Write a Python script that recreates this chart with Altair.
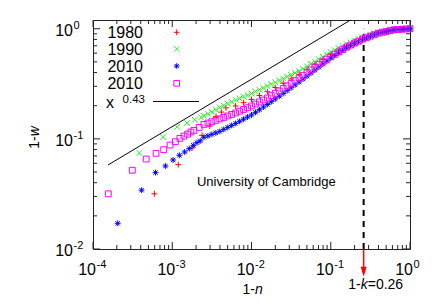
import altair as alt
import pandas as pd

W, H = 317, 229
FONT = "Liberation Sans"

# ---------------- data ----------------
# 1980 (red +)
red_x = [0.000595, 0.00119, 0.001785, 0.00238, 0.002975, 0.00357, 0.004165, 0.00476,
         0.00631, 0.00794, 0.01, 0.01259, 0.01585, 0.01995, 0.02512, 0.03162, 0.03981,
         0.05012, 0.0631, 0.07943, 0.1, 0.1259, 0.1585, 0.1995, 0.2512, 0.3162, 0.3981,
         0.5012, 0.631, 0.7943, 1.0]
red_y = [0.0317, 0.0584, 0.0829, 0.1076, 0.1306, 0.160, 0.175, 0.1913,
         0.199, 0.213, 0.228, 0.248, 0.268, 0.293, 0.320, 0.350, 0.385,
         0.427, 0.476, 0.528, 0.585, 0.641, 0.702, 0.759, 0.821, 0.869, 0.920,
         0.950, 0.981, 0.99, 1.0]

# dense part of the three other curves (shared x positions)
dense_x = [0.002512, 0.002818, 0.003162, 0.003548, 0.003981, 0.004467, 0.005012, 0.005623,
           0.00631, 0.007079, 0.007943, 0.008913, 0.01, 0.01122, 0.01259, 0.01413, 0.01585,
           0.01778, 0.01995, 0.02239, 0.02512, 0.02818, 0.03162, 0.03548, 0.03981, 0.04467,
           0.05012, 0.05623, 0.0631, 0.07079, 0.07943, 0.08913, 0.1, 0.1122, 0.1259, 0.1413,
           0.1585, 0.1778, 0.1995, 0.2239, 0.2512, 0.2818, 0.3162, 0.3548, 0.3981, 0.4467,
           0.5012, 0.5623, 0.631, 0.7079, 0.7943, 0.8913, 1.0]

# 1990 (green x)
green_low_x = [0.000385, 0.00077, 0.001155, 0.00154, 0.001925, 0.00231]
green_low_y = [0.0744, 0.1038, 0.1288, 0.1389, 0.149, 0.1567]
green_dense_y = [0.162, 0.169, 0.176, 0.184, 0.1928, 0.2006, 0.2084, 0.2166, 0.2254,
                 0.2330, 0.2412, 0.2496, 0.2581, 0.2685, 0.2790, 0.2900, 0.3017,
                 0.3139, 0.3263, 0.3391, 0.3528, 0.3670, 0.3814, 0.3965, 0.4125,
                 0.4336, 0.4552, 0.4782, 0.5028, 0.5286, 0.5550, 0.5829, 0.6128,
                 0.6389, 0.6661, 0.6945, 0.7241, 0.7511, 0.7789, 0.8078, 0.8378,
                 0.8597, 0.8825, 0.9058, 0.9297, 0.9434, 0.9561, 0.9692, 0.9835,
                 0.9876, 0.9917, 0.9958, 1.0]

# 2010 (blue *)
blue_low_x = [0.000205, 0.00041, 0.000615, 0.00082, 0.001025, 0.00123, 0.001435,
              0.00164, 0.001845, 0.00205, 0.002255]
blue_low_y = [0.0171, 0.0342, 0.0494, 0.0567, 0.0643, 0.0709, 0.0760, 0.0815,
              0.0873, 0.0924, 0.096]
blue_dense_y = [0.1032, 0.1064, 0.1098, 0.1133, 0.1169, 0.1219, 0.1271, 0.1325, 0.1381,
                0.1443, 0.1509, 0.1578, 0.1649, 0.1741, 0.1839, 0.1944, 0.2052,
                0.2173, 0.2301, 0.2436, 0.2581, 0.2742, 0.2909, 0.3088, 0.3280,
                0.3491, 0.3716, 0.3957, 0.4211, 0.4482, 0.4772, 0.5080, 0.5408,
                0.5709, 0.6033, 0.6376, 0.6730, 0.7018, 0.7316, 0.7629, 0.7953,
                0.8220, 0.8509, 0.8807, 0.9106, 0.9277, 0.9443, 0.9612, 0.9794,
                0.9845, 0.9897, 0.9948, 1.0]

# 2010 (magenta squares)
mag_low_x = [0.000156, 0.000313, 0.000469, 0.000625, 0.000781, 0.000938, 0.001094,
             0.00125, 0.001406, 0.001563, 0.001719, 0.001875, 0.002188]
mag_low_y = [0.0317, 0.0519, 0.0656, 0.0739, 0.0798, 0.0879, 0.0943, 0.101,
             0.106, 0.1104, 0.1153, 0.1194, 0.127]
mag_dense_y = [0.1353, 0.1392, 0.1432, 0.1473, 0.1517, 0.1565, 0.1615, 0.1666, 0.1719,
               0.1783, 0.1849, 0.1918, 0.1989, 0.2073, 0.2162, 0.2254, 0.2350,
               0.2470, 0.2594, 0.2724, 0.2864, 0.3023, 0.3195, 0.3376, 0.3565,
               0.3775, 0.3998, 0.4233, 0.4482, 0.4732, 0.5001, 0.5286, 0.5579,
               0.5866, 0.6161, 0.6471, 0.6803, 0.7092, 0.7394, 0.7709, 0.8035,
               0.8290, 0.8553, 0.8825, 0.9106, 0.9277, 0.9443, 0.9612, 0.9794,
               0.9845, 0.9897, 0.9948, 1.0]

# reference power law x^0.43 (end points of the drawn segment)
line_x = [0.0001546, 0.178]
line_y = [0.0579, 1.2]

# threshold 1-k
k_value = 0.26

# axes
x_major = [0.0001, 0.001, 0.01, 0.1, 1.0]
x_exp = ["-4", "-3", "-2", "-1", "0"]
y_major = [0.01, 0.1, 1.0]
y_exp = ["-2", "-1", "0"]
x_minor = [m * 10.0 ** e for e in range(-4, 0) for m in range(2, 10)]
y_minor = [m * 10.0 ** e for e in range(-2, 0) for m in range(2, 10)]

legend_labels = ["1980", "1990", "2010", "2010"]
legend_colors = ["#ff0000", "#22ee22", "#0000ff", "#ff00ff"]

# ---------------- chart ----------------
xs = alt.Scale(type="log", domain=[1e-4, 1.0], nice=False)
ys = alt.Scale(type="log", domain=[0.01, 1.2], nice=False)


def X(f):
    return alt.X(f, type="quantitative", scale=xs, axis=None)


def Y(f):
    return alt.Y(f, type="quantitative", scale=ys, axis=None)


PLUS = "M -1 0 L 1 0 M 0 -1 L 0 1"
CROSS = "M -1 -1 L 1 1 M -1 1 L 1 -1"
STAR = "M -1 0 L 1 0 M 0 -1 L 0 1 M -0.75 -0.75 L 0.75 0.75 M -0.75 0.75 L 0.75 -0.75"
TRI = "M -0.6 -1 L 0.6 -1 L 0 1 Z"
SHAPES = [PLUS, CROSS, STAR, "square"]
INK = "#222222"

series = [
    (red_x, red_y),
    (green_low_x + dense_x, green_low_y + green_dense_y),
    (blue_low_x + dense_x, blue_low_y + blue_dense_y),
    (mag_low_x + dense_x, mag_low_y + mag_dense_y),
]

layers = []


def xticks(vals, L):
    df = pd.DataFrame({"v": vals})
    b = alt.Chart(df).mark_rule(color=INK, strokeWidth=1).encode(
        x=X("v"), y=alt.value(H), y2=alt.value(H - L))
    t = alt.Chart(df).mark_rule(color=INK, strokeWidth=1).encode(
        x=X("v"), y=alt.value(0), y2=alt.value(L))
    return [b, t]


def yticks(vals, L):
    df = pd.DataFrame({"v": vals})
    l = alt.Chart(df).mark_rule(color=INK, strokeWidth=1).encode(
        y=Y("v"), x=alt.value(0), x2=alt.value(L))
    r = alt.Chart(df).mark_rule(color=INK, strokeWidth=1).encode(
        y=Y("v"), x=alt.value(W), x2=alt.value(W - L))
    return [l, r]


layers += xticks(x_major, 7) + xticks(x_minor, 4) + yticks(y_major, 7) + yticks(y_minor, 4)

# power-law line
layers.append(alt.Chart(pd.DataFrame({"x": line_x, "y": line_y})).mark_line(
    color="black", strokeWidth=1).encode(x=X("x"), y=Y("y")))

# dashed vertical line at 1-k
kdf = pd.DataFrame({"k": [k_value], "y1": [0.01], "y2": [1.0]})
layers.append(alt.Chart(kdf).mark_rule(color="black", strokeWidth=2, strokeDash=[6, 5]).encode(
    x=X("k"), y=Y("y1"), y2="y2:Q"))

# data points
for (sx, sy), col, shp in zip(series, legend_colors, SHAPES):
    df = pd.DataFrame({"x": sx, "y": sy})
    layers.append(alt.Chart(df).mark_point(
        shape=shp, filled=False, color=col, size=34, strokeWidth=1, opacity=1
    ).encode(x=X("x"), y=Y("y")))

# red arrow below axis
layers.append(alt.Chart(kdf).mark_rule(color="#ff0000", strokeWidth=1.5).encode(
    x=X("k"), y=alt.value(H), y2=alt.value(H + 20)))
layers.append(alt.Chart(kdf).mark_point(
    shape=TRI, filled=True, color="#ff0000", size=100, opacity=1, strokeWidth=0
).encode(x=X("k"), y=alt.value(H + 22.7)))

# "1-k=0.26" label
for txt, xp, st in [("1-", 255.3, "normal"), ("k", 267.7, "italic"), ("=0.26", 274.7, "normal")]:
    layers.append(alt.Chart(kdf).mark_text(
        text=txt, font=FONT, fontSize=14, fontStyle=st, align="left", baseline="alphabetic",
        color="black").encode(x=alt.value(xp), y=alt.value(H + 40)))

# tick labels
xl = pd.DataFrame({"v": x_major, "e": x_exp})
layers.append(alt.Chart(xl).mark_text(
    text="10", font=FONT, fontSize=16, align="right", baseline="alphabetic", dx=3,
    color="black").encode(x=X("v"), y=alt.value(H + 26)))
layers.append(alt.Chart(xl).mark_text(
    font=FONT, fontSize=11, align="left", baseline="alphabetic", dx=3.5,
    color="black").encode(x=X("v"), y=alt.value(H + 19), text="e:N"))
yl = pd.DataFrame({"v": y_major, "e": y_exp})
layers.append(alt.Chart(yl).mark_text(
    text="10", font=FONT, fontSize=16, align="right", baseline="alphabetic", dy=7,
    color="black").encode(x=alt.value(-20), y=Y("v")))
layers.append(alt.Chart(yl).mark_text(
    font=FONT, fontSize=11, align="left", baseline="alphabetic", dy=0,
    color="black").encode(x=alt.value(-19.5), y=Y("v"), text="e:N"))

# axis titles
one = pd.DataFrame({"a": [0]})
for txt, xp, st in [("1-", 149.4, "normal"), ("n", 161.9, "italic")]:
    layers.append(alt.Chart(one).mark_text(
        text=txt, font=FONT, fontSize=14, fontStyle=st, align="left", baseline="alphabetic",
        color="black").encode(x=alt.value(xp), y=alt.value(H + 44.5)))
for txt, yp, st in [("1-", 128.75, "normal"), ("w", 116.3, "italic")]:
    layers.append(alt.Chart(one).mark_text(
        text=txt, font=FONT, fontSize=14, fontStyle=st, align="left", baseline="middle",
        angle=270, color="black").encode(x=alt.value(-58), y=alt.value(yp)))

# annotation
ann = pd.DataFrame({"x": [0.00205], "y": [0.0376], "t": ["University of Cambridge"]})
layers.append(alt.Chart(ann).mark_text(
    font=FONT, fontSize=13, align="left", baseline="alphabetic", color="black"
).encode(x=X("x"), y=Y("y"), text="t:N"))

# key (top-left, gnuplot style: label then sample)
key_base = [17.7, 35, 52, 69]
key_mid = [12.3, 29, 46, 63.3]
for lab, col, shp, yb, ym in zip(legend_labels, legend_colors, SHAPES, key_base, key_mid):
    layers.append(alt.Chart(one).mark_text(
        text=lab, font=FONT, fontSize=16, align="right", baseline="alphabetic", color="black"
    ).encode(x=alt.value(50), y=alt.value(yb)))
    layers.append(alt.Chart(one).mark_point(
        shape=shp, filled=False, color=col, size=32, strokeWidth=1, opacity=1
    ).encode(x=alt.value(83.7), y=alt.value(ym)))
layers.append(alt.Chart(one).mark_text(
    text="x", font=FONT, fontSize=16, align="left", baseline="alphabetic", color="black"
).encode(x=alt.value(13), y=alt.value(88)))
layers.append(alt.Chart(one).mark_text(
    text="0.43", font=FONT, fontSize=11.5, align="right", baseline="alphabetic", color="black"
).encode(x=alt.value(52), y=alt.value(83)))
layers.append(alt.Chart(one).mark_rule(color="black", strokeWidth=1).encode(
    x=alt.value(60), x2=alt.value(106), y=alt.value(81.5)))

chart = alt.layer(*layers).properties(
    width=W, height=H,
    autosize=alt.AutoSizeParams(type="none"),
    padding={"left": 85, "top": 12, "right": 18, "bottom": 48},
).configure_view(stroke=INK, strokeWidth=1)

chart.save("out.html", embed_options={"renderer": "svg", "actions": False})
